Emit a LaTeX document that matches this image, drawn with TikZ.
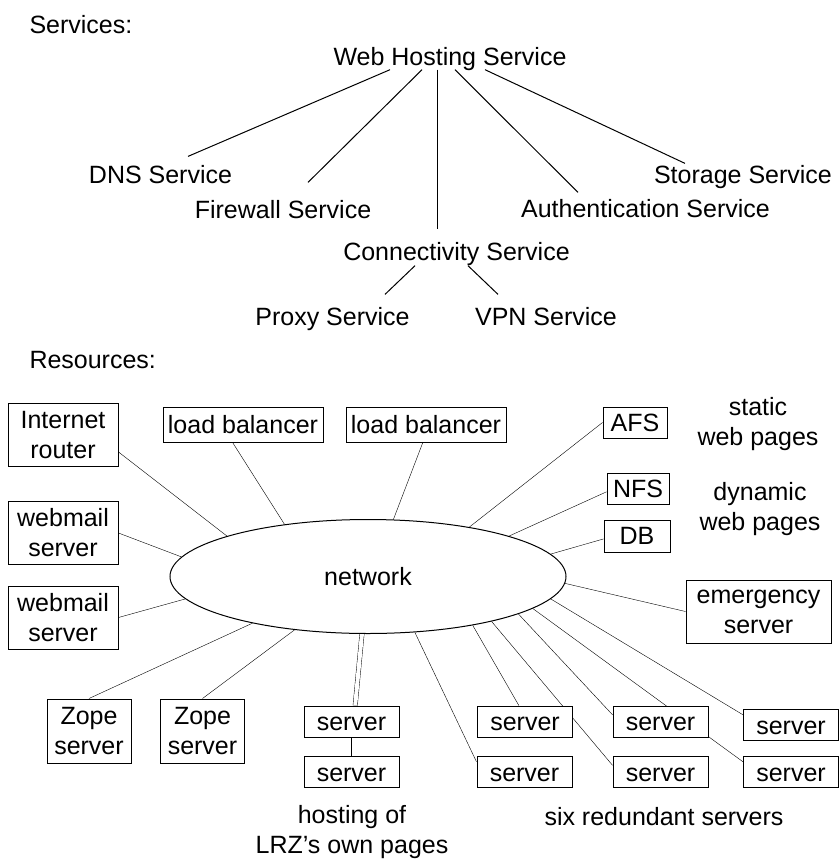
\documentclass[tikz,border=0pt]{standalone}
\usepackage{fontspec}
\setmainfont{Liberation Sans}
\usetikzlibrary{shapes.geometric,backgrounds}
\tikzset{
        svc/.style={inner sep=0pt, anchor=base},
        note/.style={inner sep=0pt, align=center},
        box/.style={draw, fill=white, inner sep=0pt, align=center, minimum width=110pt, minimum height=63pt},
        zope/.style={box, minimum width=84pt, minimum height=64pt},
        lb/.style={draw, fill=white, inner sep=0pt, minimum width=160pt, minimum height=35pt},
        store/.style={draw, fill=white, inner sep=0pt, minimum width=64pt, minimum height=31pt},
        srv/.style={draw, fill=white, inner sep=0pt, minimum width=95pt, minimum height=31pt, text height=18pt, text depth=0pt},
        net/.style={draw, ellipse, inner sep=0pt, minimum width=396pt, minimum height=114pt}
    }

\begin{document}
\begin{tikzpicture}[x=1pt, y=-1pt, line width=1pt, font=\fontsize{25}{30}\selectfont]
            \useasboundingbox (0, 0) rectangle (840, 860);

            % services
            \node [svc, anchor=base west] (services) at (29, 33) {Services:};
            \node [svc] (web)   at (450, 65)    {Web Hosting Service};
            \node [svc] (dns)   at (160.5, 183) {DNS Service};
            \node [svc] (fw)    at (283, 218)   {Firewall Service};
            \node [svc] (conn)  at (456.5, 260) {Connectivity Service};
            \node [svc] (auth)  at (645.5, 217) {Authentication Service};
            \node [svc] (stor)  at (743, 183)   {Storage Service};
            \node [svc] (proxy) at (332.5, 325) {Proxy Service};
            \node [svc] (vpn)   at (546, 325)   {VPN Service};

            \draw ([xshift=-60, yshift=1]web.south) -- ([xshift=27.5, yshift=8]dns.north);
            \draw ([xshift=-28, yshift=1]web.south) -- ([xshift=25, yshift=17]fw.north);
            \draw ([xshift=-13, yshift=1]web.south) -- ([xshift=-19.5, yshift=12]conn.north);
            \draw ([xshift=5, yshift=1]web.south) -- ([xshift=-67.5, yshift=6]auth.north);
            \draw ([xshift=35, yshift=1]web.south) -- ([xshift=-58, yshift=1]stor.north);
            \draw ([xshift=-41.5]conn.south) -- ([xshift=52.5, yshift=12]proxy.north);
            \draw ([xshift=11.5]conn.south) -- ([xshift=-48, yshift=12]vpn.north);

            % resources
            \node [svc, anchor=base west] (resources) at (29, 368) {Resources:};
            \node [net] (net) at (368, 576.5) {network};

            \node [box] (router) at (63, 435)    {Internet\\router};
            \node [box] (mail1)  at (63, 533)    {webmail\\server};
            \node [box] (mail2)  at (63, 617.5)  {webmail\\server};
            \node [lb]  (lb1)    at (243, 424.5) {load balancer};
            \node [lb]  (lb2)    at (426, 424.5) {load balancer};
            \node [store] (afs)  at (635, 422.5) {AFS};
            \node [store, minimum width=62pt] (nfs) at (638, 488.5) {NFS};
            \node [store, minimum width=66pt, minimum height=32pt] (db) at (637, 536) {DB};
            \node [note] (static)  at (758, 423.7) {static\\web pages};
            \node [note] (dynamic) at (760, 508.7) {dynamic\\web pages};
            \node [box, minimum width=145pt] (emerg) at (758.5, 611.5) {emergency\\server};

            \node [zope] (zope1) at (89, 731)    {Zope\\server};
            \node [zope] (zope2) at (202.5, 731) {Zope\\server};

            \node [srv] (lrz1) at (351.5, 721.5) {server};
            \node [srv] (lrz2) at (351.5, 772)   {server};
            \node [note] (lrztext) at (352, 831.6) {hosting of\\LRZ's own pages};

            \node [srv] (s1) at (525, 721.5)   {server};
            \node [srv] (s2) at (660.5, 721.5) {server};
            \node [srv] (s3) at (791, 725)     {server};
            \node [srv] (s4) at (524.5, 772)   {server};
            \node [srv] (s5) at (660.5, 772)   {server};
            \node [srv] (s6) at (791, 772)     {server};
            \node [svc] (six) at (664, 825) {six redundant servers};

            \begin{scope}[on background layer]
                \draw (router.-17) -- (net.164);
                \draw (mail1.east) -- (net.174);
                \draw (mail2.east) -- (net.187);
                \draw (lb1.240) -- (net.148);
                \draw (lb2.260) -- (net.66);
                \draw (afs.west) -- (net.26);
                \draw (nfs.186) -- (net.16);
                \draw (db.185) -- (net.7);
                \draw (emerg.west) -- (net.-2);
                \draw (zope1.north) -- (net.202);
                \draw (zope2.north) -- (net.216);
                \draw [double, double distance=4pt] (lrz1.77) -- (net.264);
                \draw (lrz1) -- (lrz2);
                \draw (s4.168) -- (net.310);
                \draw (s1.111) -- (net.335);
                \draw (s5.172) -- (net.340);
                \draw (s2.172) -- (net.346);
                \draw (s6.168) -- (net.349);
                \draw (s3.168) -- (net.353);
            \end{scope}
        \end{tikzpicture}
\end{document}
